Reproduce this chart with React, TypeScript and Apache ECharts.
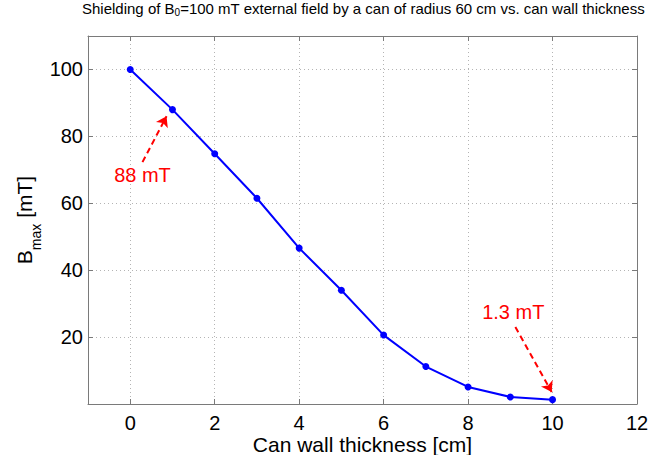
import React, { useEffect, useRef } from 'react';
import * as echarts from 'echarts';

const thickness = [0, 1, 2, 3, 4, 5, 6, 7, 8, 9, 10];
const bmax = [100, 88, 74.8, 61.5, 46.6, 34, 20.6, 11.2, 5.1, 2.1, 1.3];
const xTicks = [0, 2, 4, 6, 8, 10, 12];

const noteLabels = ['88 mT', '1.3 mT'];
const noteTextAt = [[0.29, 68.4], [9.07, 27.5]];
const noteArrowFrom = [[0.29, 72.3], [9.12, 23.0]];
const noteArrowTo = [[0.86, 86.0], [9.98, 3.6]];

export default function App() {
  const ref = useRef<HTMLDivElement>(null);
  useEffect(() => {
    const chart = echarts.init(ref.current!, null, { renderer: 'svg' });
    const frameColor = '#7a7a7a';
    const gridColor = '#b4b4b4';
    const font = '"Liberation Sans", Arial, sans-serif';
    const frameLine = { show: true, onZero: false, lineStyle: { color: frameColor, width: 1 } };
    chart.setOption({
      animation: false,
      textStyle: { fontFamily: font },
      title: {
        left: 82,
        top: 1,
        padding: 0,
        text: 'Shielding of {m|B}{s|0}{m|=100 mT external field by a can of radius 60 cm vs. can wall thickness}',
        textStyle: {
          fontSize: 15,
          fontWeight: 'normal',
          color: '#000',
          rich: {
            m: { fontSize: 15, color: '#000', fontFamily: font },
            s: { fontSize: 10, color: '#000', fontFamily: font, padding: [8, 0, 0, 0], lineHeight: 10 },
          },
        },
      },
      grid: { left: 88, right: 13, top: 36, bottom: 51, containLabel: false, outerBoundsMode: 'none' },
      xAxis: [
        {
          type: 'value',
          min: -1,
          max: 12,
          position: 'bottom',
          axisLine: frameLine,
          axisTick: { show: true, inside: true, length: 5, customValues: xTicks, lineStyle: { color: frameColor } },
          axisLabel: { customValues: xTicks, fontSize: 20, lineHeight: 20, color: '#000', margin: 9, fontFamily: font },
          splitLine: { show: true, lineStyle: { color: gridColor, type: [1, 3], width: 1 } },
          name: 'Can wall thickness [cm]',
          nameLocation: 'middle',
          nameGap: 30,
          nameMoveOverlap: false,
          nameTextStyle: { fontSize: 21, lineHeight: 21, color: '#000', fontFamily: font },
        },
        {
          type: 'value',
          min: -1,
          max: 12,
          position: 'top',
          axisLine: frameLine,
          axisTick: { show: true, inside: true, length: 5, customValues: xTicks, lineStyle: { color: frameColor } },
          axisLabel: { show: false },
          splitLine: { show: false },
        },
      ],
      yAxis: [
        {
          type: 'value',
          min: 0,
          max: 110,
          interval: 20,
          position: 'left',
          axisLine: frameLine,
          axisTick: { show: true, inside: true, length: 5, lineStyle: { color: frameColor } },
          axisLabel: { fontSize: 20, color: '#000', margin: 5, fontFamily: font, showMinLabel: false, showMaxLabel: false },
          splitLine: { show: true, lineStyle: { color: gridColor, type: [1, 3], width: 1 } },
          name: '{b|B}{s|max}{b| [mT]}',
          nameLocation: 'middle',
          nameGap: 53,
          nameMoveOverlap: false,
          nameTextStyle: {
            color: '#000',
            fontFamily: font,
            rich: {
              b: { fontSize: 21, color: '#000', fontFamily: font, lineHeight: 22 },
              s: { fontSize: 14, color: '#000', fontFamily: font, lineHeight: 14, padding: [24, 0, 0, 0] },
            },
          },
        },
        {
          type: 'value',
          min: 0,
          max: 110,
          interval: 20,
          position: 'right',
          axisLine: frameLine,
          axisTick: { show: true, inside: true, length: 5, lineStyle: { color: frameColor } },
          axisLabel: { show: false },
          splitLine: { show: false },
        },
      ],
      series: [
        {
          type: 'line',
          xAxisIndex: 0,
          yAxisIndex: 0,
          data: thickness.map((x, i) => [x, bmax[i]]),
          symbol: 'circle',
          symbolSize: 7,
          lineStyle: { color: '#0000ff', width: 2 },
          itemStyle: { color: '#0000ff' },
          markLine: {
            silent: true,
            symbol: ['none', 'arrow'],
            symbolSize: 10,
            label: { show: false },
            lineStyle: { color: '#ff0000', width: 2, type: [6, 4] },
            data: noteArrowFrom.map((f, i) => [{ coord: f }, { coord: noteArrowTo[i] }]),
          },
          markPoint: {
            silent: true,
            symbol: 'circle',
            symbolSize: 1,
            itemStyle: { color: 'rgba(0,0,0,0)' },
            label: {
              show: true,
              position: 'inside',
              color: '#ff0000',
              fontSize: 20,
              fontFamily: font,
              formatter: (p: any) => p.name,
            },
            data: noteLabels.map((t, i) => ({ name: t, coord: noteTextAt[i] })),
          },
        },
      ],
    });
    return () => chart.dispose();
  }, []);
  return <div ref={ref} style={{ position: 'absolute', left: 0, top: 0, width: 650, height: 455 }} />;
}
